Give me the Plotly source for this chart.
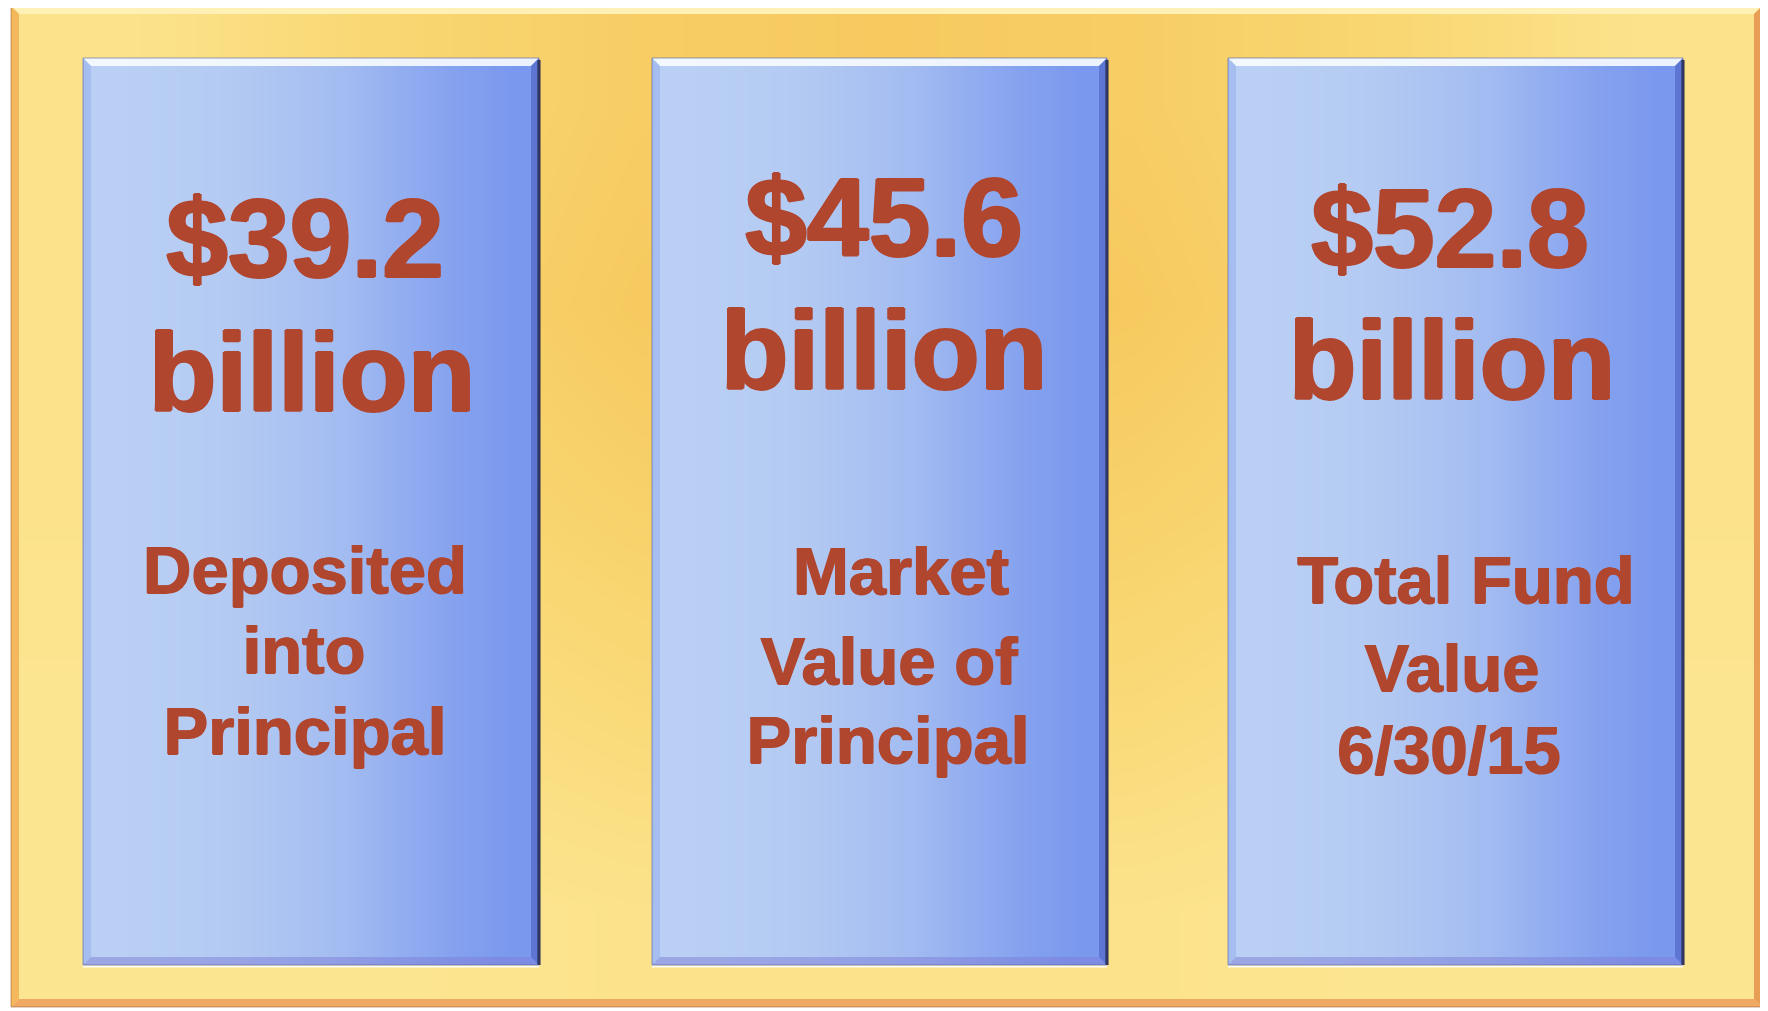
import plotly.graph_objects as go

# ---------------- data ----------------
amounts = [39.2, 45.6, 52.8]                 # $ billion
unit_label = "billion"
desc_lines = [
    ["Deposited", "into", "Principal"],
    ["Market", "Value of", "Principal"],
    ["Total Fund", "Value", "6/30/15"],
]

# ---------------- layout / style ----------------
W, H = 1768, 1011
OFF = 8  # page body margin compensation
TEXT_COLOR = "#B1462F"
FONT = "Liberation Sans, Arial, sans-serif"
BIG, SMALL = 111, 67
SHIFT = {BIG: 0.26, SMALL: 0.23}

panels_x = [(83, 539), (652, 1107), (1228, 1683)]
PANEL_TOP, PANEL_BOT = 58, 965
FX0, FY0, FX1, FY1 = 11, 6, 1762, 1007

# per-panel text baselines (amount, unit, desc1, desc2, desc3) and centres
baselines = [[278, 412, 592, 672, 753],
             [257, 390, 593, 683, 762],
             [268, 400, 602, 690, 772]]
centers = [[305, 312, 305, 304, 305],
           [884, 884, 901, 889, 888],
           [1450, 1452, 1466, 1452, 1449]]

fig = go.Figure()

# ---- frame background gradient (yellow edges, golden centre) ----
frame_z = [
    [0.10, 0.50, 0.75, 0.85, 0.75, 0.50, 0.10],
    [0.10, 0.55, 0.85, 0.95, 0.85, 0.55, 0.10],
    [0.10, 0.45, 0.65, 0.75, 0.65, 0.45, 0.10],
    [0.00, 0.20, 0.40, 0.45, 0.40, 0.20, 0.00],
    [0.00, 0.00, 0.10, 0.10, 0.10, 0.00, 0.00],
]
ncol, nrow = len(frame_z[0]), len(frame_z)
dx = (FX1 - FX0) / ncol
dy = (FY1 - FY0) / nrow
fig.add_trace(go.Heatmap(
    z=frame_z,
    x=[FX0 + dx / 2 + dx * i for i in range(ncol)],
    y=[FY0 + dy / 2 + dy * j for j in range(nrow)],
    zmin=0, zmax=1, zsmooth="best", showscale=False, hoverinfo="skip",
    colorscale=[[0, "#FCE591"], [0.5, "#F9D772"], [1, "#F5C457"]],
))

# ---- panel gradients ----
panel_z = [0.0, 0.04, 0.12, 0.28, 0.48, 0.68, 0.86, 1.0]
for (x0, x1) in panels_x:
    n = len(panel_z)
    pdx = (x1 - x0) / n
    pdy = (PANEL_BOT - PANEL_TOP) / 2
    fig.add_trace(go.Heatmap(
        z=[panel_z, panel_z],
        x=[x0 + pdx / 2 + pdx * i for i in range(n)],
        y=[PANEL_TOP + pdy / 2, PANEL_TOP + pdy * 1.5],
        zmin=0, zmax=1, zsmooth="best", showscale=False, hoverinfo="skip",
        colorscale=[[0, "#B9CFF3"], [0.5, "#A2BBF1"], [1, "#7A98EE"]],
    ))

# ---- text (slight CSS shadow to thicken strokes like the printed original) ----
c = TEXT_COLOR
thick_big = f"1.4px 0 0 {c}, -1.4px 0 0 {c}, 0 1px 0 {c}, 0 -1px 0 {c}"
thick_small = f"0.8px 0 0 {c}, -0.8px 0 0 {c}, 0 0.6px 0 {c}"
for i, (x0, x1) in enumerate(panels_x):
    big_texts = [f"${amounts[i]:.1f}", unit_label]
    fig.add_trace(go.Scatter(
        x=centers[i][:2], y=[b - SHIFT[BIG] * BIG for b in baselines[i][:2]],
        text=big_texts, mode="text", textposition="middle center",
        textfont=dict(family=FONT, size=BIG, color=c, weight="bold", shadow=thick_big),
        hoverinfo="skip", showlegend=False,
    ))
    fig.add_trace(go.Scatter(
        x=centers[i][2:], y=[b - SHIFT[SMALL] * SMALL for b in baselines[i][2:]],
        text=desc_lines[i], mode="text", textposition="middle center",
        textfont=dict(family=FONT, size=SMALL, color=c, weight="bold", shadow=thick_small),
        hoverinfo="skip", showlegend=False,
    ))

# ---- bevel shapes ----
shapes = []
b = 8
def poly(pts, fill):
    path = "M " + " L ".join(f"{x},{y}" for x, y in pts) + " Z"
    return dict(type="path", path=path, fillcolor=fill, line=dict(width=0), layer="above")

# frame bevels
shapes.append(poly([(FX0, FY0), (FX1, FY0), (FX1 - b, FY0 + b), (FX0 + b, FY0 + b)], "#FFF1B5"))
shapes.append(poly([(FX0, FY0), (FX0 + b, FY0 + b), (FX0 + b, FY1 - b), (FX0, FY1)], "#F3B85C"))
shapes.append(poly([(FX0, FY1), (FX0 + b, FY1 - b), (FX1 - b, FY1 - b), (FX1, FY1)], "#EFA963"))
shapes.append(poly([(FX1, FY0), (FX1 - b, FY0 + b), (FX1 - b, FY1 - b), (FX1, FY1)], "#E99E55"))
shapes.append(dict(type="rect", x0=FX0, y0=FY0, x1=FX1, y1=FY1,
                   line=dict(color="rgba(150,90,40,0.55)", width=1), layer="above"))

# panel bevels
pb = 8
for (x0, x1) in panels_x:
    y0, y1 = PANEL_TOP, PANEL_BOT
    shapes.append(poly([(x0, y0), (x1, y0), (x1 - pb, y0 + pb), (x0 + pb, y0 + pb)], "rgba(248,252,255,0.9)"))
    shapes.append(poly([(x0, y0), (x0 + pb, y0 + pb), (x0 + pb, y1 - pb), (x0, y1)], "rgba(150,175,235,0.55)"))
    shapes.append(poly([(x0, y1), (x0 + pb, y1 - pb), (x1 - pb, y1 - pb), (x1, y1)], "rgba(125,125,215,0.5)"))
    shapes.append(poly([(x1, y0), (x1 - pb, y0 + pb), (x1 - pb, y1 - pb), (x1, y1)], "rgba(70,90,190,0.55)"))
    shapes.append(dict(type="line", x0=x1, y0=y0 + 2, x1=x1, y1=y1, line=dict(color="#22264A", width=3), layer="above"))
    shapes.append(dict(type="line", x0=x0, y0=y1 + 1.5, x1=x1, y1=y1 + 1.5, line=dict(color="rgba(255,255,255,0.9)", width=2), layer="above"))
    shapes.append(dict(type="rect", x0=x0, y0=y0, x1=x1, y1=y1,
                       line=dict(color="rgba(80,95,160,0.6)", width=1), layer="above"))

fig.update_layout(
    width=W, height=H,
    margin=dict(l=0, r=0, t=0, b=0),
    paper_bgcolor="white", plot_bgcolor="white",
    xaxis=dict(range=[OFF, W + OFF], visible=False, fixedrange=True),
    yaxis=dict(range=[H + OFF, OFF], visible=False, fixedrange=True),
    shapes=shapes, showlegend=False,
)

fig.write_html("out.html")
